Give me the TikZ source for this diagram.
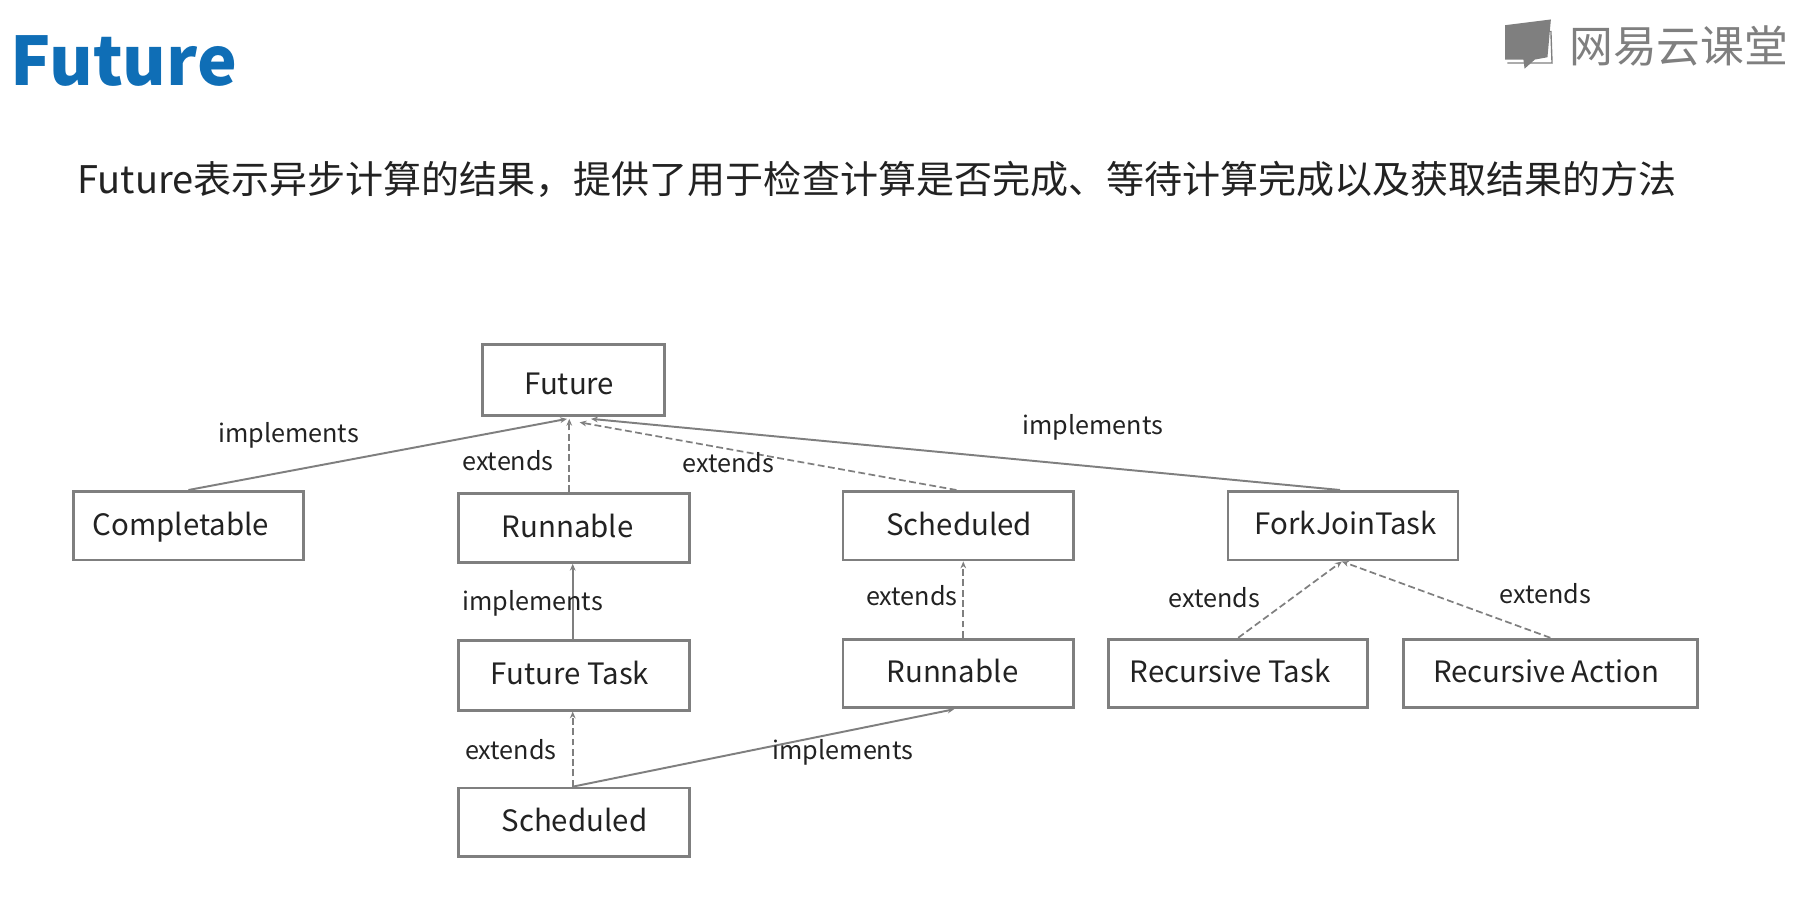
\documentclass[tikz,border=0pt]{standalone}
\usepackage{fontspec}
\setmainfont{Noto Sans CJK SC}
\usetikzlibrary{arrows.meta}
\definecolor{linegray}{HTML}{7F7F7F}
\definecolor{titleblue}{HTML}{0F6EB6}
\definecolor{inkgray}{HTML}{222222}
\tikzset{
  box/.style={draw=linegray,line width=2.4pt,rectangle,inner sep=0pt,minimum height=60pt},
  boxtext/.style={font=\fontsize{25.7}{25.7}\selectfont,text=inkgray},
  rel/.style={font=\fontsize{22}{22}\selectfont,text=inkgray},
  impl/.style={draw=linegray,line width=1.7pt,-{Stealth[length=6pt,width=5pt]}},
  ext/.style={draw=linegray,line width=1.5pt,dashed,dash pattern=on 6pt off 3pt,-{Stealth[length=6pt,width=5pt]}}
}
\begin{document}
\begin{tikzpicture}[x=1pt,y=-1pt]
\useasboundingbox (0,0) rectangle (1568,802);
% heading
\node[text=titleblue,font=\fontsize{58.5}{58.5}\selectfont\bfseries,anchor=west] (title) at (5.5,53) {Future};
\node[text=inkgray,font=\fontsize{33.2}{33.2}\selectfont,anchor=west] (sentence) at (64,157) {Future表示异步计算的结果，提供了用于检查计算是否完成、等待计算完成以及获取结果的方法};
% logo
\fill[linegray] (1314,22) -- (1354,17) -- (1351,50) -- (1340,52) -- (1331,60) -- (1330,52) -- (1314,52) -- cycle;
\draw[linegray,line width=1.2pt] (1354,27) -- (1355,55) -- (1316,55);
\node[text=linegray,font=\fontsize{38.2}{38.2}\selectfont,anchor=west] (logo) at (1366.5,40) {网易云课堂};
% boxes
\node[box,minimum width=159pt,minimum height=62pt,label={[boxtext,xshift=-3.5pt,yshift=-3.5pt]center:Future}] (future) at (500.5,332) {};
\node[box,minimum width=201pt,label={[boxtext,xshift=-6.5pt,yshift=-1pt]center:Completable}] (completable) at (164.5,459) {};
\node[box,minimum width=202pt,label={[boxtext,xshift=-5.5pt,yshift=2pt]center:Runnable}] (runnable) at (501,461) {};
\node[box,minimum width=201pt,label={[boxtext,xshift=1pt,yshift=1.5pt]center:Scheduled}] (scheduled) at (836.5,459) {};
\node[box,minimum width=201pt,label={[boxtext,xshift=2.5pt,yshift=2pt]center:ForkJoinTask}] (forkjoin) at (1172.5,459) {};
\node[box,minimum width=202pt,minimum height=61pt,label={[boxtext,xshift=-3.5pt,yshift=2pt]center:Future Task}] (futuretask) at (501,589.5) {};
\node[box,minimum width=201pt,label={[boxtext,xshift=-5pt,yshift=2pt]center:Runnable}] (runnabletwo) at (836.5,588) {};
\node[box,minimum width=226pt,label={[boxtext,xshift=-7pt,yshift=2pt]center:Recursive Task}] (rectask) at (1081,588) {};
\node[box,minimum width=257pt,label={[boxtext,xshift=-3.5pt,yshift=2pt]center:Recursive Action}] (recaction) at (1353.5,588) {};
\node[box,minimum width=202pt,label={[boxtext,xshift=0.5pt,yshift=2pt]center:Scheduled}] (scheduledtwo) at (501,718) {};
% connectors
\draw[impl] (completable.north) -- ([xshift=-5.5pt,yshift=-1.5pt]future.south);
\draw[ext] ([xshift=-4pt]runnable.north) -- ([xshift=-3.5pt,yshift=-1.5pt]future.south);
\draw[ext] ([xshift=-1.5pt]scheduled.north) -- ([xshift=5.5pt,yshift=-4.5pt]future.south);
\draw[impl] ([xshift=-2.5pt]forkjoin.north) -- ([xshift=15.5pt,yshift=-1.5pt]future.south);
\draw[impl] ([xshift=-1pt]futuretask.north) -- ([xshift=-1pt]runnable.south);
\draw[ext] ([xshift=4.5pt]runnabletwo.north) -- ([xshift=4.5pt]scheduled.south);
\draw[ext] (rectask.north) -- ([xshift=-1pt]forkjoin.south);
\draw[ext] (recaction.north) -- ([xshift=-1pt]forkjoin.south);
\draw[ext] ([xshift=-1pt]scheduledtwo.north) -- ([xshift=-1pt]futuretask.south);
\draw[impl] ([xshift=-1pt]scheduledtwo.north) -- ([xshift=-3.5pt]runnabletwo.south);
% relation labels
\node[rel] (lba) at (252,380) {implements};
\node[rel] (lbb) at (443.5,402.5) {extends};
\node[rel] (lbc) at (636,403.5) {extends};
\node[rel] (lbd) at (954,373) {implements};
\node[rel] (lbe) at (465,527) {implements};
\node[rel] (lbf) at (796,520) {extends};
\node[rel] (lbg) at (1060,522) {extends};
\node[rel] (lbh) at (1349,518.5) {extends};
\node[rel] (lbi) at (446,654.5) {extends};
\node[rel] (lbj) at (736,657) {implements};
\end{tikzpicture}
\end{document}
